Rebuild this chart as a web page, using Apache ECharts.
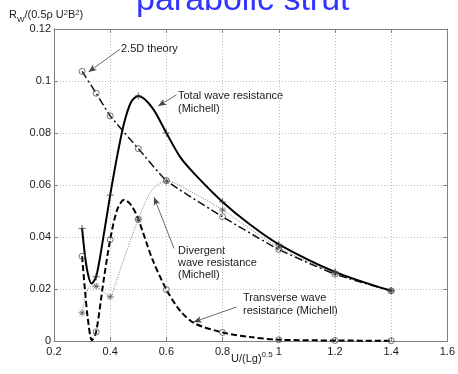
<!DOCTYPE html>
<html>
<head>
<meta charset="utf-8">
<script src="https://cdn.jsdelivr.net/npm/echarts@6/dist/echarts.min.js"></script>
<style>
  html, body { margin: 0; padding: 0; background: #fff; }
  #main { width: 458px; height: 374px; }
</style>
</head>
<body>
<div id="main"></div>
<script>
// values
const xMarks = [0.3, 0.35, 0.4, 0.5, 0.6, 0.8, 1, 1.2, 1.4];

const totalX = [0.3, 0.31, 0.32, 0.333, 0.35, 0.375, 0.4, 0.425, 0.45, 0.475, 0.5, 0.55, 0.6, 0.65, 0.7, 0.8, 0.9, 1, 1.2, 1.4];
const totalY = [0.0433, 0.0330, 0.0262, 0.0221, 0.0247, 0.0395, 0.0561, 0.0712, 0.0840, 0.0920, 0.0942, 0.0897, 0.0800, 0.0706, 0.0643, 0.0535, 0.0446, 0.0372, 0.0266, 0.0193];

const transX = [0.3, 0.31, 0.32, 0.335, 0.35, 0.375, 0.4, 0.425, 0.45, 0.475, 0.5, 0.55, 0.6, 0.65, 0.7, 0.8, 0.9, 1, 1.2, 1.4];
const transY = [0.0326, 0.0198, 0.0090, 0.0003, 0.0035, 0.0221, 0.039, 0.0505, 0.0543, 0.0522, 0.0468, 0.0315, 0.0198, 0.0115, 0.0068, 0.0033, 0.0015, 0.0005, 0.0002, 0.0001];

const divX = [0.3, 0.312, 0.327, 0.35, 0.375, 0.4, 0.415, 0.44, 0.5, 0.55, 0.6, 0.7, 0.8, 1, 1.2, 1.4];
const divY = [0.0108, 0.017, 0.0208, 0.0211, 0.0189, 0.017, 0.0208, 0.0288, 0.0468, 0.0583, 0.0615, 0.0567, 0.0504, 0.036, 0.0261, 0.0193];

const theoryX = [0.3, 0.35, 0.4, 0.5, 0.6, 0.8, 1, 1.2, 1.4];
const theoryY = [0.1037, 0.0953, 0.0866, 0.074, 0.0617, 0.0478, 0.0352, 0.0257, 0.0193];

const xTicks = [0.2, 0.4, 0.6, 0.8, 1, 1.2, 1.4, 1.6];
const yTicks = [0, 0.02, 0.04, 0.06, 0.08, 0.1, 0.12];

const FONT = '"Liberation Sans", Arial, Helvetica, sans-serif';
const AXIS_GRAY = '#7f7f7f';

function pairs(xs, ys) {
  return xs.map((x, i) => [x, ys[i]]);
}
function marks(xs, ys) {
  return pairs(xs, ys).filter(p => xMarks.includes(p[0]));
}

const PLUS = 'path://M5,0L5,10M0,5L10,5';
const STAR = 'path://M5,0L5,10M0,5L10,5M1.5,1.5L8.5,8.5M8.5,1.5L1.5,8.5';

function lineSeries(name, xs, ys, style, z) {
  return {
    name: name,
    type: 'line',
    data: pairs(xs, ys),
    symbol: 'none',
    smooth: 0.3,
    lineStyle: style,
    silent: true,
    z: z
  };
}
function markSeries(name, xs, ys, symbol, color, size) {
  return {
    name: name + ' marks',
    type: 'scatter',
    data: marks(xs, ys),
    symbol: symbol,
    symbolSize: size,
    itemStyle: { color: 'rgba(0,0,0,0)', borderColor: color, borderWidth: 1 },
    silent: true,
    z: 5
  };
}

const chart = echarts.init(document.getElementById('main'), null, { renderer: 'canvas' });

const sideAxis = {
  axisLine: { show: true, onZero: false, lineStyle: { color: AXIS_GRAY, width: 1 } },
  axisTick: { show: true, inside: true, length: 4, lineStyle: { color: AXIS_GRAY } },
  axisLabel: { show: false },
  splitLine: { show: false }
};

const textStyle = { fill: '#1a1a1a', fontSize: 11, fontFamily: FONT };

const option = {
  animation: false,
  backgroundColor: '#fff',
  grid: { left: 54, right: 7, top: 29, bottom: 33 },
  xAxis: [{
    type: 'value', min: 0.2, max: 1.6, interval: 0.2,
    axisLine: { show: true, onZero: false, lineStyle: { color: AXIS_GRAY, width: 1 } },
    axisTick: { show: true, inside: true, length: 4, lineStyle: { color: AXIS_GRAY } },
    axisLabel: {
      color: '#1a1a1a', fontSize: 11, fontFamily: FONT, margin: 5,
      formatter: v => String(xTicks.find(t => Math.abs(t - v) < 1e-6) ?? +v.toFixed(2))
    },
    splitLine: { show: true, lineStyle: { color: '#bfbfbf', width: 1, type: [1, 2] } }
  }, Object.assign({ type: 'value', position: 'top', min: 0.2, max: 1.6, interval: 0.2 }, sideAxis)],
  yAxis: [{
    type: 'value', min: 0, max: 0.12, interval: 0.02,
    axisLine: { show: true, onZero: false, lineStyle: { color: AXIS_GRAY, width: 1 } },
    axisTick: { show: true, inside: true, length: 4, lineStyle: { color: AXIS_GRAY } },
    axisLabel: {
      color: '#1a1a1a', fontSize: 11, fontFamily: FONT, margin: 3,
      formatter: v => String(yTicks.find(t => Math.abs(t - v) < 1e-6) ?? +v.toFixed(3))
    },
    splitLine: { show: true, lineStyle: { color: '#bfbfbf', width: 1, type: [1, 2] } }
  }, Object.assign({ type: 'value', position: 'right', min: 0, max: 0.12, interval: 0.02 }, sideAxis)],
  series: [
    lineSeries('Divergent', divX, divY, { color: '#7a7a7a', width: 1, type: [1, 1.5] }, 2),
    Object.assign(lineSeries('2.5D theory', theoryX, theoryY, { color: '#111', width: 1.5, type: [8, 3, 2, 3] }, 3), {
      smooth: 0.15,
      markLine: {
        silent: true,
        symbol: ['none', 'arrow'],
        symbolSize: [5, 8],
        label: { show: false },
        lineStyle: { color: '#444', width: 0.8, type: 'solid' },
        emphasis: { disabled: true },
        data: [
          [{ coord: [0.436, 0.1123] }, { coord: [0.323, 0.1035] }],
          [{ coord: [0.636, 0.0947] }, { coord: [0.571, 0.0904] }],
          [{ coord: [0.627, 0.0356] }, { coord: [0.556, 0.0553] }],
          [{ coord: [0.850, 0.0131] }, { coord: [0.697, 0.0073] }]
        ]
      }
    }),
    lineSeries('Transverse', transX, transY, { color: '#000', width: 2, type: [6, 3] }, 3),
    lineSeries('Total', totalX, totalY, { color: '#000', width: 2, type: 'solid' }, 4),
    markSeries('2.5D theory', theoryX, theoryY, 'circle', '#555', 6),
    markSeries('Transverse', transX, transY, 'circle', '#555', 6),
    markSeries('Divergent', divX, divY, STAR, '#555', 7),
    markSeries('Total', totalX, totalY, PLUS, '#333', 7)
  ],
  graphic: [
    {
      type: 'text', x: 136, y: 1, silent: true,
      style: { text: 'parabolic strut', fill: '#3333ff', fontSize: 34, fontFamily: FONT, verticalAlign: 'middle' }
    },
    {
      type: 'text', left: 9, top: 6, silent: true,
      style: {
        text: '{n|R}{s|W}{n|/(0.5ρ U}{p|2}{n|B}{p|2}{n|)}',
        fill: '#1a1a1a', fontFamily: FONT,
        rich: {
          n: { fontSize: 11, lineHeight: 14, fontFamily: FONT, fill: '#1a1a1a' },
          s: { fontSize: 8, lineHeight: 8, padding: [10, 0, 0, 0], fontFamily: FONT, fill: '#1a1a1a' },
          p: { fontSize: 7.5, lineHeight: 8, padding: [0, 0, 5, 0], fontFamily: FONT, fill: '#1a1a1a' }
        }
      }
    },
    {
      type: 'text', left: 231, top: 351, silent: true,
      style: {
        text: '{n|U/(Lg)}{p|0.5}',
        fill: '#1a1a1a', fontFamily: FONT,
        rich: {
          n: { fontSize: 11, lineHeight: 14, fontFamily: FONT, fill: '#1a1a1a' },
          p: { fontSize: 8, lineHeight: 8, padding: [0, 0, 7, 0], fontFamily: FONT, fill: '#1a1a1a' }
        }
      }
    },
    { type: 'text', x: 121, y: 49, silent: true, style: Object.assign({ text: '2.5D theory', verticalAlign: 'middle' }, textStyle) },
    { type: 'text', x: 178, y: 90, silent: true, style: Object.assign({ text: 'Total wave resistance\n(Michell)', verticalAlign: 'top', lineHeight: 12.5 }, textStyle) },
    { type: 'text', x: 178, y: 244.5, silent: true, style: Object.assign({ text: 'Divergent\nwave resistance\n(Michell)', verticalAlign: 'top', lineHeight: 12.2 }, textStyle) },
    { type: 'text', x: 243, y: 292, silent: true, style: Object.assign({ text: 'Transverse wave\nresistance (Michell)', verticalAlign: 'top', lineHeight: 12.4 }, textStyle) }
  ]
};

chart.setOption(option);
</script>
</body>
</html>
